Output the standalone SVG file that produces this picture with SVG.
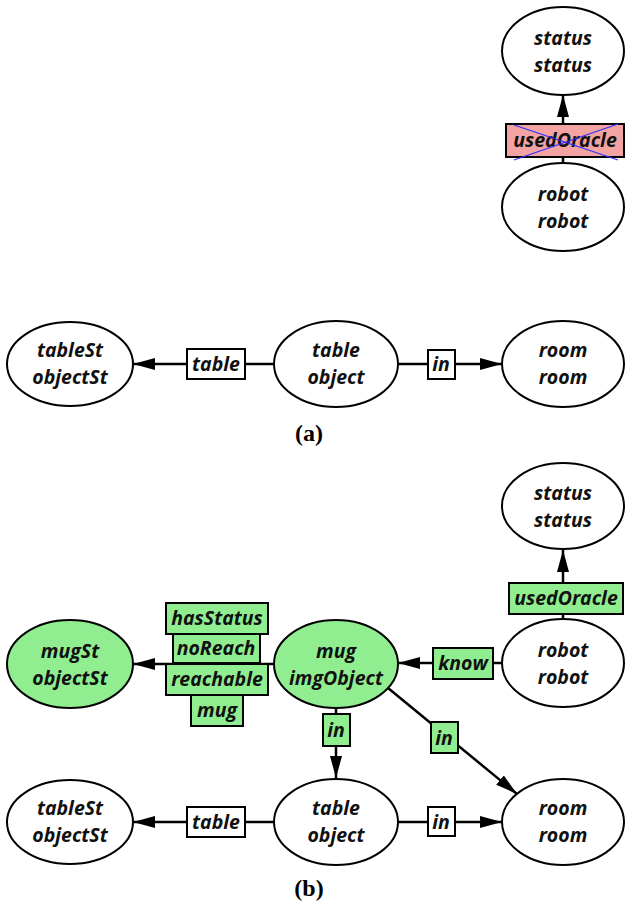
<svg xmlns="http://www.w3.org/2000/svg" width="627" height="904" viewBox="0 0 627 904">
<defs>
<style>
.n{fill:#fff;stroke:#000;stroke-width:2}
.g{fill:#90ee90;stroke:#000;stroke-width:2}
.r{fill:#f4a3a3;stroke:#000;stroke-width:2}
.e{stroke:#000;stroke-width:2.5;fill:none}
.t{font-family:"Open Sans","Noto Sans",sans-serif;font-weight:bold;font-style:italic;font-size:19.5px;text-anchor:middle;fill:#111}
.cap{font-family:"Liberation Serif",serif;font-weight:bold;font-size:24px;text-anchor:middle;fill:#000}
.x{stroke:#3030ff;stroke-width:1.3}
</style>
<marker id="ah" viewBox="0 0 22 12" refX="22" refY="6" markerWidth="22" markerHeight="12" orient="auto" markerUnits="userSpaceOnUse"><path d="M0,0 L22,6 L0,12 z" fill="#000"/></marker>
</defs>

<g id="connectors">
<line class="e" x1="563" y1="124" x2="563" y2="95" marker-end="url(#ah)"/>
<line class="e" x1="563" y1="157" x2="563" y2="163"/>
<line class="e" x1="187" y1="364" x2="133" y2="364" marker-end="url(#ah)"/>
<line class="e" x1="245" y1="364" x2="274" y2="364"/>
<line class="e" x1="398" y1="364" x2="428" y2="364"/>
<line class="e" x1="455" y1="364" x2="502" y2="364" marker-end="url(#ah)"/>
<line class="e" x1="563" y1="583" x2="563" y2="550" marker-end="url(#ah)"/>
<line class="e" x1="563" y1="614" x2="563" y2="619"/>
<line class="e" x1="502" y1="663" x2="493" y2="663"/>
<line class="e" x1="433" y1="663" x2="398" y2="663" marker-end="url(#ah)"/>
<line class="e" x1="274" y1="664" x2="133" y2="664" marker-end="url(#ah)"/>
<line class="e" x1="336" y1="708" x2="336" y2="778" marker-end="url(#ah)"/>
<line class="e" x1="388" y1="688" x2="517" y2="794" marker-end="url(#ah)"/>
<line class="e" x1="187" y1="822" x2="133" y2="822" marker-end="url(#ah)"/>
<line class="e" x1="245" y1="822" x2="274" y2="822"/>
<line class="e" x1="398" y1="822" x2="428" y2="822"/>
<line class="e" x1="455" y1="822" x2="502" y2="822" marker-end="url(#ah)"/>
</g>

<g id="a_status"><ellipse class="n" cx="563" cy="51" rx="61" ry="44"/><text class="t" x="563" y="45">status</text><text class="t" x="563" y="72">status</text></g>
<g id="a_usedOracle"><rect class="r" x="506" y="124" width="118" height="33"/><text class="t" x="565" y="147">usedOracle</text><line class="x" x1="514" y1="125" x2="618" y2="160"/><line class="x" x1="514" y1="160" x2="618" y2="124"/></g>
<g id="a_robot"><ellipse class="n" cx="563" cy="207" rx="61" ry="44"/><text class="t" x="563" y="201">robot</text><text class="t" x="563" y="228">robot</text></g>
<g id="a_tableSt"><ellipse class="n" cx="70" cy="364" rx="63" ry="42"/><text class="t" x="70" y="357">tableSt</text><text class="t" x="70" y="384">objectSt</text></g>
<g id="a_tableLbl"><rect class="n" x="187" y="349" width="58" height="30"/><text class="t" x="216" y="371">table</text></g>
<g id="a_table"><ellipse class="n" cx="336" cy="364" rx="62" ry="43"/><text class="t" x="336" y="357">table</text><text class="t" x="336" y="384">object</text></g>
<g id="a_inLbl"><rect class="n" x="428" y="350" width="27" height="29"/><text class="t" x="441" y="371">in</text></g>
<g id="a_room"><ellipse class="n" cx="563" cy="364" rx="61" ry="43"/><text class="t" x="563" y="357">room</text><text class="t" x="563" y="384">room</text></g>
<text class="cap" x="309" y="441">(a)</text>

<g id="b_status"><ellipse class="n" cx="563" cy="506" rx="61" ry="43"/><text class="t" x="563" y="500">status</text><text class="t" x="563" y="527">status</text></g>
<g id="b_usedOracle"><rect class="g" x="509" y="583" width="114" height="31"/><text class="t" x="566" y="605">usedOracle</text></g>
<g id="b_robot"><ellipse class="n" cx="563" cy="663" rx="61" ry="44"/><text class="t" x="563" y="657">robot</text><text class="t" x="563" y="684">robot</text></g>
<g id="b_know"><rect class="g" x="433" y="648" width="60" height="31"/><text class="t" x="463" y="670">know</text></g>
<g id="b_mug"><ellipse class="g" cx="336" cy="664" rx="62" ry="44"/><text class="t" x="336" y="658">mug</text><text class="t" x="336" y="685">imgObject</text></g>
<g id="b_labels">
<rect class="g" x="166" y="603" width="102" height="31"/><text class="t" x="217" y="625">hasStatus</text>
<rect class="g" x="173" y="634" width="87" height="29"/><text class="t" x="216" y="655">noReach</text>
<rect class="g" x="166" y="664" width="102" height="31"/><text class="t" x="217" y="686">reachable</text>
<rect class="g" x="191" y="695" width="52" height="31"/><text class="t" x="217" y="717">mug</text>
</g>
<g id="b_mugSt"><ellipse class="g" cx="70" cy="664" rx="63" ry="44"/><text class="t" x="70" y="658">mugSt</text><text class="t" x="70" y="685">objectSt</text></g>
<g id="b_in1"><rect class="g" x="323" y="714" width="27" height="32"/><text class="t" x="336" y="737">in</text></g>
<g id="b_in2"><rect class="g" x="431" y="722" width="27" height="31"/><text class="t" x="444" y="745">in</text></g>
<g id="b_tableSt"><ellipse class="n" cx="70" cy="822" rx="63" ry="42"/><text class="t" x="70" y="815">tableSt</text><text class="t" x="70" y="842">objectSt</text></g>
<g id="b_tableLbl"><rect class="n" x="187" y="807" width="58" height="30"/><text class="t" x="216" y="829">table</text></g>
<g id="b_table"><ellipse class="n" cx="336" cy="822" rx="62" ry="43"/><text class="t" x="336" y="815">table</text><text class="t" x="336" y="842">object</text></g>
<g id="b_inLbl"><rect class="n" x="428" y="807" width="27" height="29"/><text class="t" x="441" y="829">in</text></g>
<g id="b_room"><ellipse class="n" cx="563" cy="822" rx="61" ry="43"/><text class="t" x="563" y="815">room</text><text class="t" x="563" y="842">room</text></g>
<text class="cap" x="309" y="896">(b)</text>
</svg>
